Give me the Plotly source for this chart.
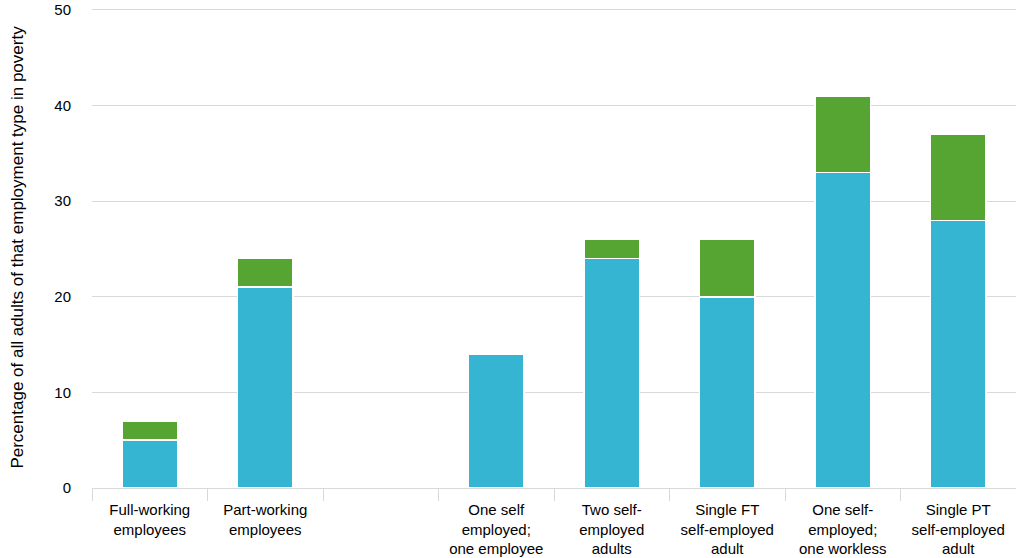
import plotly.graph_objects as go

categories = [
    "Full-working<br>employees",
    "Part-working<br>employees",
    " ",
    "One self<br>employed;<br>one employee",
    "Two self-<br>employed<br>adults",
    "Single FT<br>self-employed<br>adult",
    "One self-<br>employed;<br>one workless",
    "Single PT<br>self-employed<br>adult",
]
blue_values = [5, 21, None, 14, 24, 20, 33, 28]
green_values = [2, 3, None, 0, 2, 6, 8, 9]

fig = go.Figure()
fig.add_trace(go.Bar(x=categories, y=blue_values, marker=dict(color="#35b5d1", line=dict(color="white", width=1.5)), width=0.48, showlegend=False))
fig.add_trace(go.Bar(x=categories, y=green_values, marker=dict(color="#56a432", line=dict(color="white", width=1.5)), width=0.48, showlegend=False))

fig.update_layout(
    barmode="stack",
    width=1016, height=558,
    margin=dict(l=92, r=0, t=7, b=70),
    plot_bgcolor="white", paper_bgcolor="white",
    font=dict(family="Liberation Sans, Arial, sans-serif", size=15, color="#000000"),
)
fig.update_xaxes(
    type="category", categoryorder="array", categoryarray=categories,
    tickson="boundaries", ticks="outside", ticklen=12, tickcolor="#d9d9d9",
    showline=True, linecolor="#d9d9d9", linewidth=1, showgrid=False,
    tickfont=dict(size=15), ticklabelstandoff=8,
)
fig.update_yaxes(
    range=[0, 50.3], tickvals=[0, 10, 20, 30, 40, 50], showgrid=True, gridcolor="#d9d9d9", gridwidth=1,
    zeroline=False, showline=False, ticks="", ticklabelstandoff=20,
    title=dict(text="Percentage of all adults of that employment type in poverty", font=dict(size=17), standoff=26),
    tickfont=dict(size=15),
)
fig.write_html("out.html", config={"displayModeBar": False}, post_script="document.body.style.margin='0';")
